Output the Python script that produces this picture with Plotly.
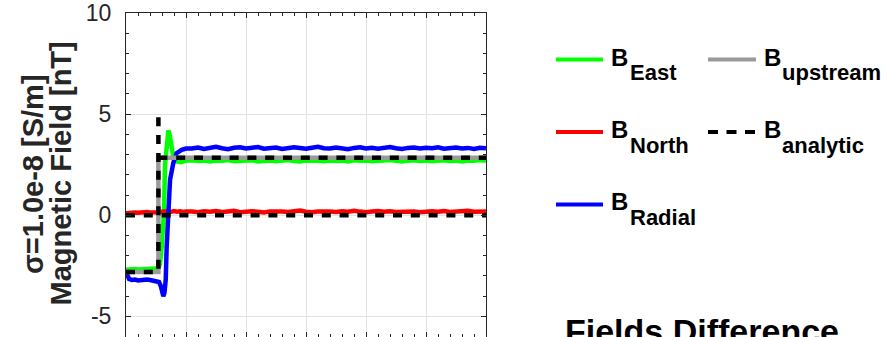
import plotly.graph_objects as go

# ---- time samples (min) ----
t_pre = [0.0, 0.25, 0.5, 0.75, 1.0, 1.25, 1.5, 1.75, 2.0, 2.25, 2.5]
t_tail = [5.5 + 0.5 * i for i in range(50)]

# ---- B_East ----
east_pre = [-2.70, -2.68, -2.69, -2.66, -2.68, -2.67, -2.69, -2.66, -2.67, -2.65, -2.63]
east_step_t = [2.7, 2.83, 2.97, 3.1, 3.17, 3.25, 3.4, 3.53, 3.65, 3.75, 3.94, 4.22, 4.6, 5.0]
east_step = [-2.58, -2.42, -1.6, -0.4, 0.2, 2.5, 3.85, 4.19, 3.95, 3.56, 2.9, 2.66, 2.62, 2.70]
east_tail = [2.72, 2.68, 2.70, 2.66, 2.71, 2.69, 2.73, 2.67, 2.70, 2.68,
             2.72, 2.66, 2.69, 2.71, 2.67, 2.70, 2.73, 2.68, 2.66, 2.70,
             2.72, 2.69, 2.67, 2.71, 2.68, 2.70, 2.66, 2.72, 2.69, 2.71,
             2.67, 2.70, 2.68, 2.73, 2.69, 2.66, 2.70, 2.72, 2.68, 2.71,
             2.67, 2.69, 2.72, 2.68, 2.70, 2.66, 2.71, 2.69, 2.73, 2.70]

# ---- B_North ----
north_pre = [0.10, 0.12, 0.11, 0.14, 0.12, 0.15, 0.13, 0.16, 0.14, 0.17, 0.15]
north_step_t = [2.75, 3.0, 3.25, 3.5, 3.75, 4.0, 4.25, 4.5, 4.75, 5.0]
north_step = [0.16, 0.19, 0.22, 0.20, 0.17, 0.21, 0.18, 0.20, 0.16, 0.19]
north_tail = [0.18, 0.15, 0.20, 0.17, 0.21, 0.16, 0.19, 0.22, 0.15, 0.18,
              0.20, 0.17, 0.14, 0.19, 0.21, 0.18, 0.16, 0.20, 0.23, 0.17,
              0.15, 0.19, 0.21, 0.18, 0.16, 0.20, 0.17, 0.22, 0.18, 0.15,
              0.19, 0.21, 0.17, 0.20, 0.16, 0.18, 0.22, 0.19, 0.15, 0.18,
              0.20, 0.17, 0.21, 0.16, 0.19, 0.18, 0.22, 0.17, 0.20, 0.18]

# ---- B_Radial ----
radial_pre = [-2.78, -3.15, -3.20, -3.18, -3.22, -3.19, -3.21, -3.18, -3.20, -3.23, -3.26]
radial_step_t = [2.75, 2.9, 3.0, 3.11, 3.2, 3.31, 3.39, 3.5, 3.67, 3.94, 4.22, 4.64, 5.0]
radial_step = [-3.30, -3.5, -3.8, -4.0, -3.85, -3.2, -1.55, 0.1, 1.75, 2.58, 3.07, 3.23, 3.30]
radial_tail = [3.30, 3.35, 3.28, 3.33, 3.38, 3.31, 3.27, 3.34, 3.36, 3.30,
               3.32, 3.37, 3.29, 3.33, 3.35, 3.28, 3.31, 3.36, 3.33, 3.29,
               3.34, 3.38, 3.31, 3.30, 3.35, 3.32, 3.27, 3.33, 3.36, 3.30,
               3.34, 3.29, 3.32, 3.37, 3.31, 3.28, 3.33, 3.35, 3.30, 3.34,
               3.31, 3.36, 3.29, 3.32, 3.35, 3.30, 3.33, 3.28, 3.34, 3.31]

# ---- upstream and analytic references ----
upstream_t = [0.0, 2.7, 2.7, 30.0]
upstream = [-2.80, -2.80, 2.84, 2.84]
analytic_east_t = [0.0, 2.7, 2.7, None, 2.7, 30.0]
analytic_east = [-2.80, -2.80, 4.85, None, 2.84, 2.84]
analytic_north_t = [0.0, 30.0]
analytic_north = [0.0, 0.0]

y_ticks = [-5, 0, 5, 10]
y_tick_text = ["-5", "0", "5", "10"]

legend_names = ["East", "upstream", "North", "analytic", "Radial"]
title_text = "Fields Difference"
ylabel_lines = ["σ=1.0e-8 [S/m]", "Magnetic Field [nT]"]

# ---- figure geometry (px) ----
W, H = 888, 337
ML, MR, MT, MB = 126, 402, 13, 0
PW, PH = W - ML - MR, H - MT - MB

def px(xp):
    return (xp - ML) / PW

def py(yp):
    return (H - MB - yp) / PH

FONT = "Liberation Sans, Arial, Helvetica, sans-serif"
AX = "#262626"
COLORS = {"East": "#00ff00", "North": "#ff0000", "Radial": "#0000ff",
          "upstream": "#9a9a9a", "analytic": "#000000"}
DASH = "9px,8.8px"
LW = 4.5

fig = go.Figure()
fig.add_trace(go.Scatter(x=t_pre + east_step_t + t_tail, y=east_pre + east_step + east_tail,
                         mode="lines", line=dict(color=COLORS["East"], width=LW)))
fig.add_trace(go.Scatter(x=t_pre + north_step_t + t_tail, y=north_pre + north_step + north_tail,
                         mode="lines", line=dict(color=COLORS["North"], width=LW)))
fig.add_trace(go.Scatter(x=t_pre + radial_step_t + t_tail, y=radial_pre + radial_step + radial_tail,
                         mode="lines", line=dict(color=COLORS["Radial"], width=LW)))
fig.add_trace(go.Scatter(x=upstream_t, y=upstream, mode="lines",
                         line=dict(color=COLORS["upstream"], width=LW)))
fig.add_trace(go.Scatter(x=analytic_east_t, y=analytic_east, mode="lines",
                         line=dict(color=COLORS["analytic"], width=LW, dash=DASH)))
fig.add_trace(go.Scatter(x=analytic_north_t, y=analytic_north, mode="lines",
                         line=dict(color=COLORS["analytic"], width=LW, dash=DASH)))

axis_common = dict(
    showline=True, linecolor=AX, linewidth=1, mirror="allticks",
    ticks="inside", ticklen=5, tickcolor=AX, tickwidth=1,
    showgrid=True, gridcolor="#e2e2e2", gridwidth=1, zeroline=False,
    minor=dict(ticks="inside", ticklen=3, tickcolor=AX, showgrid=False, dtick=1),
)

fig.update_xaxes(range=[0, 30], tick0=0, dtick=5, showticklabels=False, **axis_common)
fig.update_yaxes(range=[-6.02, 10], tickvals=y_ticks, ticktext=y_tick_text, ticklabelstandoff=9,
                 tickfont=dict(family=FONT, size=23, color=AX), **axis_common)

annotations = []
shapes = []

# y-axis label, two stacked lines
for txt, xc in zip(ylabel_lines, [33, 60.5]):
    annotations.append(dict(text=f"<b>{txt}</b>", xref="paper", yref="paper",
                            x=px(xc), y=py(174), xanchor="center", yanchor="middle",
                            textangle=-90, showarrow=False,
                            font=dict(family=FONT, size=29, color=AX)))

# legend: two columns, three rows
cols = [dict(l0=556, l1=603, b=609, s=628), dict(l0=708, l1=756, b=762, s=780)]
rows = [54, 126.5, 199]
slots = [(0, 0), (1, 0), (0, 1), (1, 1), (0, 2)]
for name, (ci, ri) in zip(legend_names, slots):
    c, yc = cols[ci], rows[ri]
    shapes.append(dict(type="line", xref="paper", yref="paper",
                       x0=px(c["l0"]), x1=px(c["l1"]), y0=py(yc + 5.5), y1=py(yc + 5.5),
                       line=dict(color=COLORS[name], width=4,
                                 dash="10px,8.5px" if name == "analytic" else "solid")))
    annotations.append(dict(text="<b>B</b>", xref="paper", yref="paper",
                            x=px(c["b"]), y=py(yc + 3), xanchor="left", yanchor="middle",
                            showarrow=False, font=dict(family=FONT, size=24, color="#000")))
    annotations.append(dict(text=f"<b>{name}</b>", xref="paper", yref="paper",
                            x=px(c["s"]), y=py(yc + 18.5), xanchor="left", yanchor="middle",
                            showarrow=False, font=dict(family=FONT, size=22, color="#000")))

# title of the panel below
annotations.append(dict(text=f"<b>{title_text}</b>", xref="paper", yref="paper",
                        x=px(702), y=py(331), xanchor="center", yanchor="middle",
                        showarrow=False, font=dict(family=FONT, size=34, color="#000")))

fig.update_layout(
    width=W, height=H, margin=dict(l=ML, r=MR, t=MT, b=MB, pad=0),
    paper_bgcolor="white", plot_bgcolor="white", showlegend=False,
    annotations=annotations, shapes=shapes,
)

fig.write_html("out.html")
